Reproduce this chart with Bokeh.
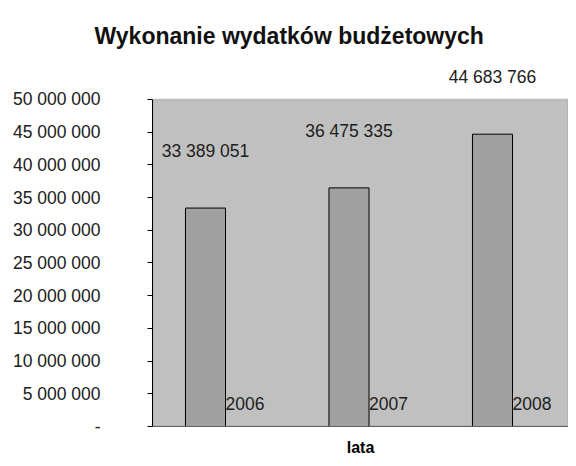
from bokeh.plotting import figure
from bokeh.models import ColumnDataSource, FixedTicker, Range1d, BoxAnnotation
from bokeh.core.properties import value
from bokeh.embed import file_html
from bokeh.resources import INLINE

title_text = "Wykonanie wydatków budżetowych"
years = ["2006", "2007", "2008"]
values = [33389051, 36475335, 44683766]
value_labels = ["33 389 051", "36 475 335", "44 683 766"]
x_label = "lata"
y_ticks = [0, 5000000, 10000000, 15000000, 20000000, 25000000, 30000000,
           35000000, 40000000, 45000000, 50000000]
y_tick_labels = ["-", "5 000 000", "10 000 000", "15 000 000", "20 000 000",
                 "25 000 000", "30 000 000", "35 000 000", "40 000 000",
                 "45 000 000", "50 000 000"]
y_max = 50000000

FONT = "Liberation Sans"
BAR_W = 0.279

idx = list(range(len(years)))
src = ColumnDataSource(dict(x=idx, top=values, year=years, vlab=value_labels))

W, H = 568, 458
LEFT, TOP, BOTTOM = 152, 68, 31
px_per_unit = (H - BOTTOM - 99) / y_max  # frame bottom at 427, 50M at 99
y_end = (H - BOTTOM - TOP) / px_per_unit
x_start = -(205 - LEFT) / 143.5
x_end = (W - 205) / 143.5

p = figure(width=W, height=H, output_backend="svg", toolbar_location=None,
           x_range=Range1d(x_start, x_end), y_range=Range1d(0, y_end),
           min_border_left=LEFT, min_border_right=0, min_border_top=TOP,
           min_border_bottom=BOTTOM)
p.background_fill_color = "white"
p.border_fill_color = "white"
p.outline_line_color = None
p.grid.visible = False

p.title.text = title_text
p.title.align = "left"
p.title.offset = -58
p.title.text_font = FONT
p.title.text_font_size = "23px"
p.title.text_font_style = "bold"
p.title.text_color = "#111111"
p.title.standoff = 36
p.title.vertical_align = "top"

area = BoxAnnotation(bottom=0, top=y_max, fill_color="#c0c0c0", fill_alpha=1,
                     line_color="#7a7a7a", line_width=2, level="underlay")
p.add_layout(area)

p.vbar(x="x", top="top", bottom=0, width=BAR_W, source=src,
       fill_color="#a0a0a0", line_color="black", line_width=1)

p.text(x="x", y="top", text="vlab", y_offset=-57, source=src,
       text_font=value(FONT), text_font_size="17.5px", text_color="#202020",
       text_baseline="middle", text_align="center")
p.text(x="x", y=0, text="year", x_offset=20, y_offset=-23, source=src,
       text_font=value(FONT), text_font_size="17.5px", text_color="#202020",
       text_baseline="middle", text_align="left")

p.xaxis.ticker = FixedTicker(ticks=[])
p.xaxis.axis_line_color = "#606060"
p.xaxis.axis_label = x_label
p.xaxis.axis_label_text_font = FONT
p.xaxis.axis_label_text_font_size = "16px"
p.xaxis.axis_label_text_font_style = "bold"
p.xaxis.axis_label_text_color = "black"
p.xaxis.axis_label_standoff = 12

p.yaxis.ticker = FixedTicker(ticks=y_ticks)
p.yaxis.bounds = (0, y_max)
p.yaxis.major_label_overrides = {t: l for t, l in zip(y_ticks, y_tick_labels)}
p.yaxis.major_label_text_font = FONT
p.yaxis.major_label_text_font_size = "17.5px"
p.yaxis.major_label_text_color = "#202020"
p.yaxis.major_label_standoff = 47
p.yaxis.major_tick_out = 5
p.yaxis.major_tick_in = 0
p.yaxis.minor_tick_line_color = None
p.yaxis.axis_line_color = "black"

open("out.html", "w").write(file_html(p, INLINE))
